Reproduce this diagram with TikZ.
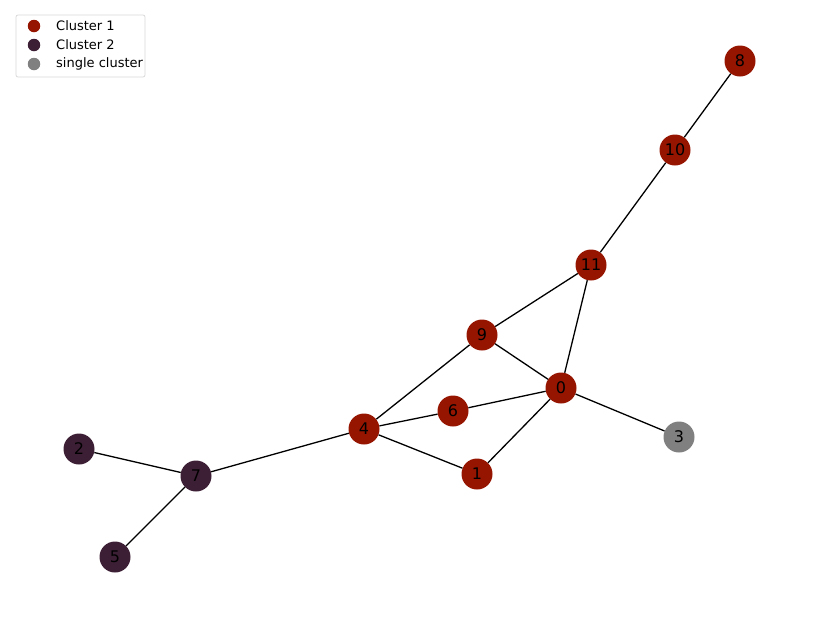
\documentclass[tikz,border=0pt]{standalone}
\usepackage{fontspec}
\setmainfont{DejaVu Sans}
\definecolor{cA}{HTML}{961500}
\definecolor{cB}{HTML}{3D1F35}
\definecolor{cS}{HTML}{808080}
\tikzset{
  vtx/.style={circle,minimum size=31pt,inner sep=0pt,font=\fontsize{16}{16}\selectfont},
  ca/.style={vtx,fill=cA},
  cb/.style={vtx,fill=cB},
  cs/.style={vtx,fill=cS},
  edge/.style={line width=1.3pt,black},
  lgmark/.style={circle,minimum size=12.5pt,inner sep=0pt},
  lgtext/.style={anchor=west,inner sep=0pt,font=\fontsize{13}{13}\selectfont}
}
\begin{document}
\begin{tikzpicture}[x=1pt,y=-1pt]
\useasboundingbox[fill=white] (0,0) rectangle (819,619);
\node[ca] (n8) at (740,61) {8};
\node[ca] (n10) at (675,150) {10};
\node[ca] (n11) at (591,265) {11};
\node[ca] (n9) at (482,335) {9};
\node[ca] (n0) at (561,388) {0};
\node[cs] (n3) at (679,437) {3};
\node[ca] (n6) at (453,411) {6};
\node[ca] (n4) at (364,429) {4};
\node[ca] (n1) at (477,474) {1};
\node[cb] (n7) at (196,476) {7};
\node[cb] (n2) at (79,449) {2};
\node[cb] (n5) at (115,557) {5};
\foreach \a/\b in {n8/n10,n10/n11,n11/n9,n11/n0,n9/n0,n9/n4,n0/n6,n0/n3,n0/n1,n4/n6,n4/n1,n4/n7,n7/n2,n7/n5}
  \draw[edge] (\a) -- (\b);
% legend
\node[draw=black!15,rounded corners=2pt,line width=0.8pt,minimum width=129pt,minimum height=62pt,inner sep=0pt] (lg) at (80.5,46) {};
\node[lgmark,fill=cA] (m1) at (34,26) {};
\node[lgmark,fill=cB] (m2) at (34,45) {};
\node[lgmark,fill=cS] (m3) at (34,64) {};
\node[lgtext] (t1) at (56,26) {Cluster 1};
\node[lgtext] (t2) at (56,45) {Cluster 2};
\node[lgtext] (t3) at (56,64) {single cluster};
\end{tikzpicture}
\end{document}
